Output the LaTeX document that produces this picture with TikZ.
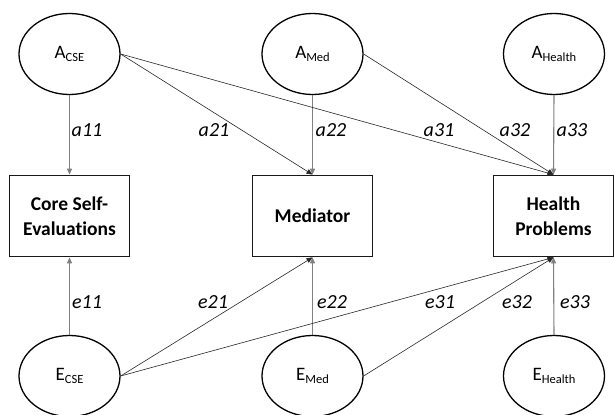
\documentclass[tikz,border=0pt]{standalone}
\usepackage{fontspec}
\setmainfont[Ligatures=NoCommon]{Carlito}
\usetikzlibrary{shapes.geometric,arrows.meta}
\newcommand{\lvlab}[2]{#1\raisebox{-0.3ex}{\fontsize{12.5}{13}\selectfont #2}}
\begin{document}
\begin{tikzpicture}[x=1pt,y=-1pt,
  latent/.style={ellipse, draw=black, line width=1.3pt, minimum width=101pt, minimum height=81pt, inner sep=0pt, font=\fontsize{19}{22}\selectfont},
  obs/.style={rectangle, draw=black!90, line width=1.8pt, minimum width=120pt, minimum height=81pt, inner sep=0pt, align=center, font=\bfseries\fontsize{19.5}{25.5}\selectfont},
  vpath/.style={draw=black!50, line width=1.1pt, -{Triangle[length=6pt,width=5pt]}},
  dpath/.style={draw=black!85, line width=0.6pt, -{Triangle[length=6pt,width=5pt]}},
  lab/.style={font=\itshape\fontsize{20}{20}\selectfont, inner sep=0pt}]
\useasboundingbox (0,0) rectangle (614,415);
% latent nodes
\node[latent] (acse) at (69.5,54) {\lvlab{A}{CSE}};
\node[latent] (amed) at (312.5,54) {\lvlab{A}{Med}};
\node[latent] (ahea) at (554,54) {\lvlab{A}{Health}};
\node[latent] (ecse) at (69.5,376) {\lvlab{E}{CSE}};
\node[latent] (emed) at (312.5,376) {\lvlab{E}{Med}};
\node[latent] (ehea) at (554,376) {\lvlab{E}{Health}};
% observed
\node[obs] (cse) at (69.5,216) {Core Self-\\Evaluations};
\node[obs] (med) at (312.5,216) {Mediator};
\node[obs] (hea) at (553.5,216) {Health\\Problems};
% paths
\draw[vpath] (acse.south) -- (cse.north);
\draw[vpath] (amed.south) -- (med.north);
\draw[vpath] (ahea.south) -- (hea.north);
\draw[dpath] (acse.east) -- (med.north);
\draw[dpath] (acse.east) -- (hea.north);
\draw[dpath] (amed.east) -- (hea.north);
\draw[vpath] (ecse.north) -- (cse.south);
\draw[vpath] (emed.north) -- (med.south);
\draw[vpath] (ehea.north) -- (hea.south);
\draw[dpath] (ecse.east) -- (med.south);
\draw[dpath] (ecse.east) -- (hea.south);
\draw[dpath] (emed.east) -- (hea.south);
% labels
\node[lab] (la11) at (87,130) {a11};
\node[lab] (la21) at (214,130) {a21};
\node[lab] (la22) at (331,130) {a22};
\node[lab] (la31) at (439,130) {a31};
\node[lab] (la32) at (515,130) {a32};
\node[lab] (la33) at (572,130) {a33};
\node[lab] (le11) at (87,302) {e11};
\node[lab] (le21) at (213,302) {e21};
\node[lab] (le22) at (332,302) {e22};
\node[lab] (le31) at (440,302) {e31};
\node[lab] (le32) at (517,302) {e32};
\node[lab] (le33) at (575,302) {e33};
\end{tikzpicture}
\end{document}
